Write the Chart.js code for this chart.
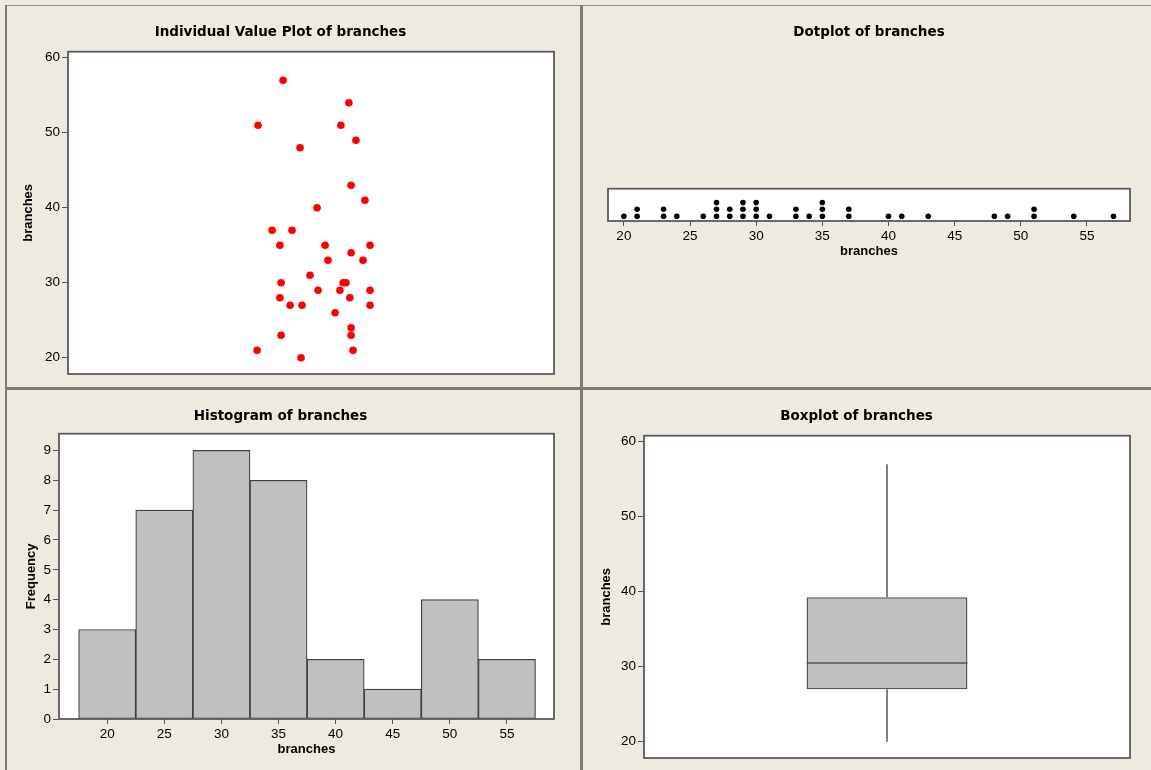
<!DOCTYPE html>
<html>
<head>
<meta charset="utf-8">
<script src="https://cdn.jsdelivr.net/npm/chart.js@4.4.1/dist/chart.umd.min.js"></script>
<style>
  html, body { margin: 0; padding: 0; background: #EEEAE0; }
  body { width: 1151px; height: 770px; position: relative; overflow: hidden; }
  .panel { position: absolute; }
  .line { position: absolute; background: #7b7b73; }
</style>
</head>
<body>
<div class="line" style="left:5px;top:5px;width:1146px;height:1px;background:#8f8f88"></div>
<div class="line" style="left:5px;top:5px;width:2px;height:765px"></div>
<div class="line" style="left:580px;top:5px;width:3px;height:765px"></div>
<div class="line" style="left:5px;top:387px;width:1146px;height:3px"></div>

<div class="panel" style="left:7px;top:6px"><canvas id="ivp" width="574" height="382"></canvas></div>
<div class="panel" style="left:583px;top:6px"><canvas id="dot" width="568" height="382"></canvas></div>
<div class="panel" style="left:7px;top:390px"><canvas id="hist" width="574" height="380"></canvas></div>
<div class="panel" style="left:583px;top:390px"><canvas id="box" width="568" height="380"></canvas></div>

<script>
// data
var branches = [57, 54, 51, 51, 49, 48, 43, 41, 40, 37, 37, 35, 35, 35, 34, 33, 33, 31,
  30, 30, 30, 29, 29, 29, 28, 28, 27, 27, 27, 26, 24, 23, 23, 21, 21, 20];
// horizontal jitter of the individual value plot (same order as branches)
var jitter = [-0.115, 0.156, -0.218, 0.123, 0.185, -0.045, 0.165, 0.222, 0.025, -0.160, -0.078,
  -0.128, 0.058, 0.243, 0.165, 0.070, 0.214, -0.004, -0.123, 0.132, 0.144, 0.029, 0.119, 0.243,
  -0.128, 0.160, -0.086, -0.037, 0.243, 0.099, 0.165, -0.123, 0.165, -0.222, 0.173, -0.041];
var binMids = [20, 25, 30, 35, 40, 45, 50, 55];
var binCounts = [3, 7, 9, 8, 2, 1, 4, 2];
var boxStats = [20, 27, 30.5, 39.25, 57]; // min, Q1, median, Q3, max

var branchTicks = [20, 30, 40, 50, 60];
var dotTicks = [20, 25, 30, 35, 40, 45, 50, 55];
var histXTicks = [20, 25, 30, 35, 40, 45, 50, 55];
var histYTicks = [0, 1, 2, 3, 4, 5, 6, 7, 8, 9];

Chart.defaults.font.family = '"Liberation Sans", Arial, sans-serif';
Chart.defaults.font.size = 13.5;
Chart.defaults.color = '#000';
Chart.defaults.animation = false;
Chart.defaults.plugins.legend.display = false;
Chart.defaults.plugins.tooltip.enabled = false;

var frame = {
  id: 'frame',
  beforeDraw: function (chart) {
    var a = chart.chartArea, c = chart.ctx;
    c.save();
    c.fillStyle = '#fff';
    c.fillRect(a.left, a.top, a.right - a.left, a.bottom - a.top);
    c.restore();
  },
  afterDraw: function (chart) {
    var a = chart.chartArea, c = chart.ctx;
    c.save();
    c.strokeStyle = '#5a5a5a';
    c.lineWidth = 1.8;
    c.strokeRect(a.left, a.top, a.right - a.left, a.bottom - a.top);
    c.restore();
  }
};

function title(text, below) {
  return {
    display: true, text: text,
    font: { family: '"DejaVu Sans", sans-serif', size: 13.5, weight: 'bold' },
    padding: { top: 17.9, bottom: below }
  };
}

function setTicks(list) {
  return function (axis) { axis.ticks = list.map(function (v) { return { value: v }; }); };
}

function yAxis(min, max, list, label, width, pad) {
  return {
    min: min, max: max,
    afterBuildTicks: setTicks(list),
    afterFit: function (s) { s.width = width; s.paddingTop = 0; s.paddingBottom = 0; },
    grid: { drawOnChartArea: false, drawTicks: true, tickLength: 6, color: '#555' },
    border: { display: false },
    ticks: { padding: 2 },
    title: { display: true, text: label, font: { size: 13, weight: 'bold' }, padding: { top: pad, bottom: 0 } }
  };
}

function xAxis(min, max, list, height) {
  return {
    type: 'linear', min: min, max: max, offset: false,
    afterBuildTicks: setTicks(list),
    afterFit: function (s) { s.height = height; s.paddingLeft = 0; s.paddingRight = 0; },
    grid: { offset: false, drawOnChartArea: false, drawTicks: true, tickLength: 5, color: '#555' },
    border: { display: false },
    ticks: { padding: 2, maxRotation: 0 },
    title: { display: true, text: 'branches', font: { size: 13, weight: 'bold' }, padding: { top: 0, bottom: 0 } }
  };
}

// Individual value plot
new Chart(document.getElementById('ivp'), {
  type: 'scatter',
  data: {
    datasets: [{
      data: branches.map(function (v, i) { return { x: jitter[i], y: v }; }),
      backgroundColor: '#ff0000', borderColor: '#ff0000', pointRadius: 3.8, borderWidth: 0
    }]
  },
  options: {
    responsive: false,
    layout: { padding: { left: 0, right: 27, top: 0, bottom: 14 } },
    plugins: { title: title('Individual Value Plot of branches', 11.6) },
    scales: {
      x: { type: 'linear', min: -1, max: 1, display: false },
      y: yAxis(17.83, 60.8, branchTicks, 'branches', 61, 13.7)
    }
  },
  plugins: [frame]
});

// Dotplot: stack level from the count of equal values seen so far
var seen = {};
var dotPoints = branches.slice().sort(function (a, b) { return a - b; }).map(function (v) {
  seen[v] = (seen[v] || 0) + 1;
  return { x: v, y: seen[v] };
});
new Chart(document.getElementById('dot'), {
  type: 'scatter',
  data: {
    datasets: [{ data: dotPoints, backgroundColor: '#000', borderColor: '#000', pointRadius: 2.8, borderWidth: 0 }]
  },
  options: {
    responsive: false,
    layout: { padding: { left: 25, right: 21, top: 0, bottom: 128.5 } },
    plugins: { title: title('Dotplot of branches', 148.6) },
    scales: {
      x: xAxis(18.8, 58.25, dotTicks, 38.5),
      y: { min: 0.3, max: 5, display: false }
    }
  },
  plugins: [frame]
});

// Histogram
new Chart(document.getElementById('hist'), {
  type: 'bar',
  data: {
    datasets: [{
      data: binMids.map(function (m, i) { return { x: m, y: binCounts[i] }; }),
      backgroundColor: '#c0c0c0', borderColor: '#3f3f3f', borderWidth: 1.2, borderSkipped: false,
      barPercentage: 1, categoryPercentage: 1
    }]
  },
  options: {
    responsive: false,
    layout: { padding: { left: 0, right: 27, top: 0, bottom: 12.9 } },
    plugins: { title: title('Histogram of branches', 9.6) },
    scales: {
      x: xAxis(15.78, 59.12, histXTicks, 38.1),
      y: yAxis(0, 9.56, histYTicks, 'Frequency', 52, 16.2)
    }
  },
  plugins: [frame]
});

// Boxplot: box as a floating bar, whiskers and median drawn on the same scales
var whiskers = {
  id: 'whiskers',
  afterDatasetsDraw: function (chart) {
    var bar = chart.getDatasetMeta(0).data[0];
    var y = chart.scales.y, c = chart.ctx;
    var half = bar.width / 2;
    c.save();
    c.strokeStyle = '#555';
    c.lineWidth = 1.5;
    c.beginPath();
    c.moveTo(bar.x, y.getPixelForValue(boxStats[0]));
    c.lineTo(bar.x, y.getPixelForValue(boxStats[1]));
    c.moveTo(bar.x, y.getPixelForValue(boxStats[3]));
    c.lineTo(bar.x, y.getPixelForValue(boxStats[4]));
    c.moveTo(bar.x - half, y.getPixelForValue(boxStats[2]));
    c.lineTo(bar.x + half, y.getPixelForValue(boxStats[2]));
    c.stroke();
    c.restore();
  }
};
new Chart(document.getElementById('box'), {
  type: 'bar',
  data: {
    labels: ['branches'],
    datasets: [{
      data: [[boxStats[1], boxStats[3]]],
      backgroundColor: '#c0c0c0', borderColor: '#555', borderWidth: 1.5, borderSkipped: false,
      barPercentage: 0.331, categoryPercentage: 1
    }]
  },
  options: {
    responsive: false,
    layout: { padding: { left: 0, right: 21, top: 0, bottom: 12 } },
    plugins: { title: title('Boxplot of branches', 11.6) },
    scales: {
      x: { display: false },
      y: yAxis(17.83, 60.8, branchTicks, 'branches', 61, 15.7)
    }
  },
  plugins: [frame, whiskers]
});
</script>
</body>
</html>
